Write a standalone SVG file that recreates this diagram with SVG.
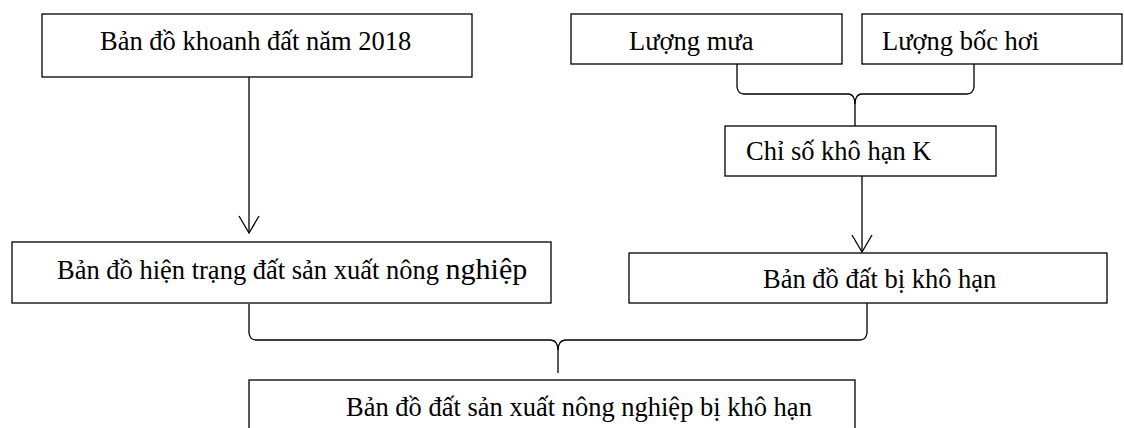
<svg xmlns="http://www.w3.org/2000/svg" width="1124" height="428" viewBox="0 0 1124 428">
<style>
.box{fill:#fff;stroke:#000;stroke-width:1.3}
.ln{fill:none;stroke:#000;stroke-width:1.3}
text{font-family:"Liberation Serif","Times New Roman",serif;font-size:26.5px;fill:#000}
</style>
<defs>
<marker id="ah" markerUnits="userSpaceOnUse" markerWidth="20" markerHeight="24" refX="0" refY="0" orient="auto" overflow="visible">
<path d="M-17,-10 L0,0 L-17,10" fill="none" stroke="#000" stroke-width="1.3"/>
</marker>
</defs>
<rect width="1124" height="428" fill="#fff"/>
<g id="connectors">
<path class="ln" d="M249,77 L249,233" marker-end="url(#ah)"/>
<path class="ln" d="M862,176 L862,252" marker-end="url(#ah)"/>
<path class="ln" d="M737,64 L737,87 Q738,94 744,94 L849,94 Q855,95 855,104 L855,126"/>
<path class="ln" d="M974,64 L974,87 Q973,94 967,94 L861,94 Q855,95 855,104"/>
<path class="ln" d="M249,304 L249,333 Q250,340 256,340 L551,340 Q558,341 558,350 L558,373"/>
<path class="ln" d="M867,303 L867,333 Q866,340 860,340 L565,340 Q558,341 558,350"/>
</g>
<g id="n1">
<rect class="box" x="42" y="14" width="430" height="63"/>
<text x="100" y="50">Bản đồ khoanh đất năm 2018</text>
</g>
<g id="n2">
<rect class="box" x="571" y="14" width="271" height="50"/>
<text x="629" y="50">Lượng mưa</text>
</g>
<g id="n3">
<rect class="box" x="862" y="14" width="260" height="50"/>
<text x="882" y="50">Lượng bốc hơi</text>
</g>
<g id="n4">
<rect class="box" x="725" y="126" width="271" height="50"/>
<text x="746" y="160">Chỉ số khô hạn K</text>
</g>
<g id="n5">
<rect class="box" x="12" y="242" width="539" height="61"/>
<text x="57" y="279">Bản đồ hiện trạng đất sản xuất nông <tspan font-size="30">nghiệp</tspan></text>
</g>
<g id="n6">
<rect class="box" x="629" y="253" width="478" height="50"/>
<text x="763" y="288">Bản đồ đất bị khô hạn</text>
</g>
<g id="n7">
<rect class="box" x="249" y="380" width="606" height="70"/>
<text x="346" y="416">Bản đồ đất sản xuất nông nghiệp bị khô hạn</text>
</g>
</svg>
